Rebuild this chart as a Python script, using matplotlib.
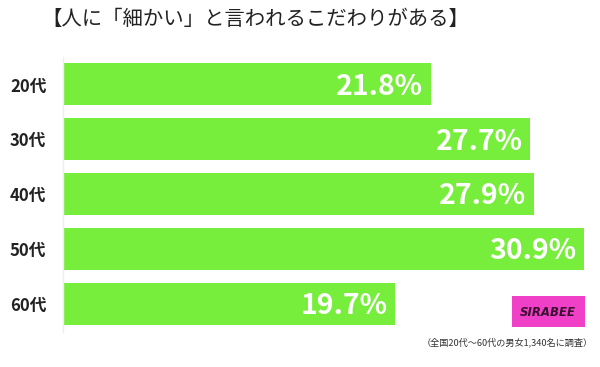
import matplotlib
matplotlib.use("Agg")
import matplotlib.pyplot as plt
from matplotlib.patches import Rectangle

plt.rcParams['font.family'] = ['Noto Sans CJK JP', 'DejaVu Sans']

# data
categories = ['20代', '30代', '40代', '50代', '60代']
values = [21.8, 27.7, 27.9, 30.9, 19.7]
title = '【人に「細かい」と言われるこだわりがある】'
note = '（全国20代～60代の男女1,340名に調査）'

BAR_COLOR = '#78ee3c'

fig = plt.figure(figsize=(6.0, 3.67), dpi=100)
ax = fig.add_axes([0.105, 0.0967, 0.88, 0.748])

ypos = list(range(len(categories)))
ax.barh(ypos, values, height=0.765, color=BAR_COLOR, zorder=2)
ax.set_ylim(len(categories) - 0.5, -0.5)
ax.set_xlim(0, 31.3)

for y, v in zip(ypos, values):
    ax.text(v - 0.45, y + 0.04, f'{v}%', ha='right', va='center',
            color='white', fontsize=20.5, fontweight='bold', zorder=3)

ax.set_yticks(ypos)
ax.set_yticklabels(categories, fontsize=12, fontweight='bold', color='#222222')
ax.tick_params(axis='y', length=0, pad=12)
ax.set_xticks([])
for side in ['top', 'right', 'bottom']:
    ax.spines[side].set_visible(False)
ax.spines['left'].set_color('#eeeeee')
ax.spines['left'].set_linewidth(1.0)

fig.text(255 / 600, 0.948, title, ha='center', va='center', fontsize=14.7, color='#222222')

# logo box
fig.patches.append(Rectangle((512 / 600, 1 - 327 / 367), 73 / 600, 31 / 367,
                             transform=fig.transFigure, facecolor='#f040c8',
                             edgecolor='none'))
fig.text(548 / 600, 1 - 313 / 367, 'SIRABEE', ha='center', va='center',
         fontsize=8.5, fontweight='bold', fontstyle='italic', color='#3a1030',
         family='DejaVu Sans')
fig.text(507 / 600, 1 - 342 / 367, note, ha='center', va='center',
         fontsize=6.6, color='#333333')

fig.savefig('out.png', dpi=100)
